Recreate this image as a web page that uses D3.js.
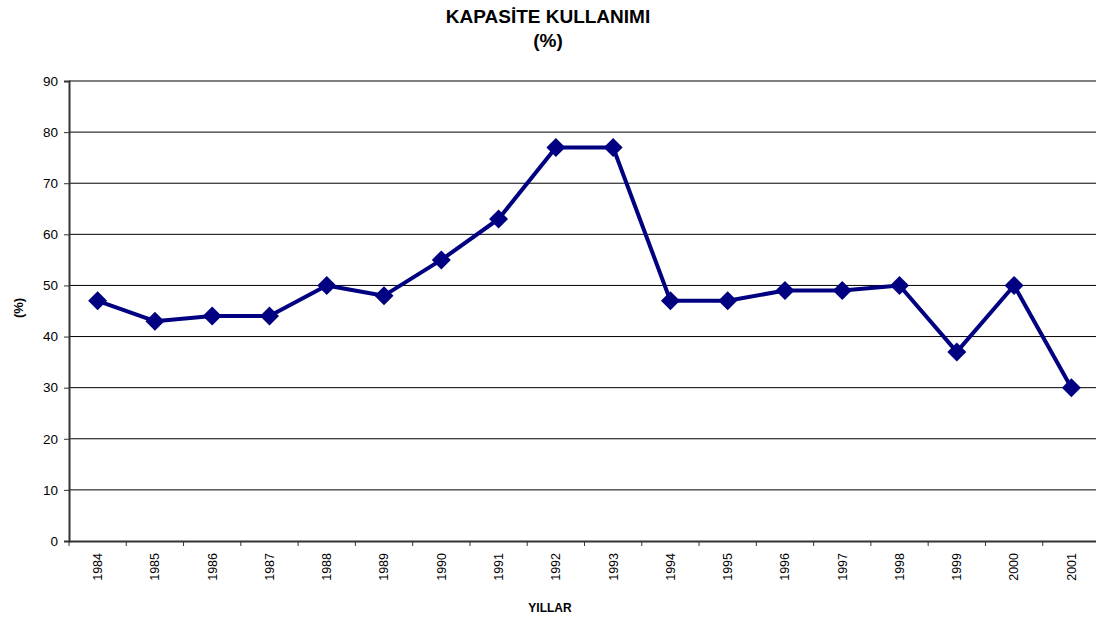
<!DOCTYPE html>
<html>
<head>
<meta charset="utf-8">
<script src="https://cdn.jsdelivr.net/npm/d3@7"></script>
<style>
  body { margin: 0; background: #fff; }
  svg { display: block; font-family: "Liberation Sans", Arial, sans-serif; }
</style>
</head>
<body>
<svg id="chart" width="1096" height="624"></svg>
<script>
// data
var years = ["1984","1985","1986","1987","1988","1989","1990","1991","1992",
             "1993","1994","1995","1996","1997","1998","1999","2000","2001"];
var usage = [47, 43, 44, 44, 50, 48, 55, 63, 77, 77, 47, 47, 49, 49, 50, 37, 50, 30];
var yTicks = [0, 10, 20, 30, 40, 50, 60, 70, 80, 90];

var svg = d3.select("#chart");
// plot area (right edge runs past the picture, as in the original)
var plotLeft = 69, plotRight = 1100, plotTop = 81, plotBottom = 541;

var x = d3.scaleBand().domain(years).range([plotLeft, plotRight]);
var y = d3.scaleLinear().domain([0, 90]).range([plotBottom, plotTop]);

// title
svg.append("text").attr("x", 548).attr("y", 23).attr("text-anchor", "middle")
  .style("font-size", "19px").style("font-weight", "bold").text("KAPASİTE KULLANIMI");
svg.append("text").attr("x", 548).attr("y", 47).attr("text-anchor", "middle")
  .style("font-size", "19px").style("font-weight", "bold").text("(%)");

// gridlines
svg.append("g").selectAll("line").data(yTicks.filter(function(d){ return d > 0; }))
  .enter().append("line")
  .attr("x1", plotLeft).attr("x2", plotRight)
  .attr("y1", function(d){ return y(d); }).attr("y2", function(d){ return y(d); })
  .attr("stroke", function(d){ return d == 90 ? "#808080" : "#000"; })
  .attr("stroke-width", function(d){ return d == 90 ? 2 : 1; });

// y axis
var yAxis = svg.append("g").attr("transform", "translate(" + plotLeft + ",0)")
  .call(d3.axisLeft(y).tickValues(yTicks).tickSize(5).tickPadding(6));
yAxis.select(".domain").attr("stroke", "#333").attr("stroke-width", 2);
yAxis.selectAll(".tick line").attr("stroke", "#333");
yAxis.selectAll("text").style("font-size", "13.5px").attr("fill", "#000")
  .style("font-family", "Liberation Sans, Arial, sans-serif");

// x axis
var xAxis = svg.append("g").attr("transform", "translate(0," + plotBottom + ")")
  .call(d3.axisBottom(x).tickSize(0).tickPadding(0));
xAxis.select(".domain").attr("stroke", "#333").attr("stroke-width", 2);
xAxis.selectAll("text")
  .style("font-size", "12.5px").attr("fill", "#000")
  .style("font-family", "Liberation Sans, Arial, sans-serif")
  .attr("transform", "rotate(-90)")
  .attr("text-anchor", "end")
  .attr("x", -12).attr("y", 0).attr("dy", "0.35em");
// tick marks at band boundaries
xAxis.selectAll(".bound").data(years).enter().append("line")
  .attr("x1", function(d){ return x(d); }).attr("x2", function(d){ return x(d); })
  .attr("y1", 0).attr("y2", 5).attr("stroke", "#333");

// axis titles
svg.append("text").attr("x", 550).attr("y", 612).attr("text-anchor", "middle")
  .style("font-size", "12px").style("font-weight", "bold").text("YILLAR");
svg.append("text").attr("transform", "translate(18,308) rotate(-90)")
  .attr("text-anchor", "middle").attr("dy", "0.35em")
  .style("font-size", "13px").style("font-weight", "bold").text("(%)");

// line
var cx = function(d, i){ return x(years[i]) + x.bandwidth() / 2; };
var line = d3.line().x(cx).y(function(d){ return y(d); });
svg.append("path").datum(usage).attr("d", line)
  .attr("fill", "none").attr("stroke", "#000080").attr("stroke-width", 4)
  .attr("stroke-linejoin", "round");

// markers
svg.append("g").selectAll("path").data(usage).enter().append("path")
  .attr("d", d3.symbol().type(d3.symbolDiamond2).size(230))
  .attr("transform", function(d, i){ return "translate(" + cx(d, i) + "," + y(d) + ")"; })
  .attr("fill", "#000080");
</script>
</body>
</html>
